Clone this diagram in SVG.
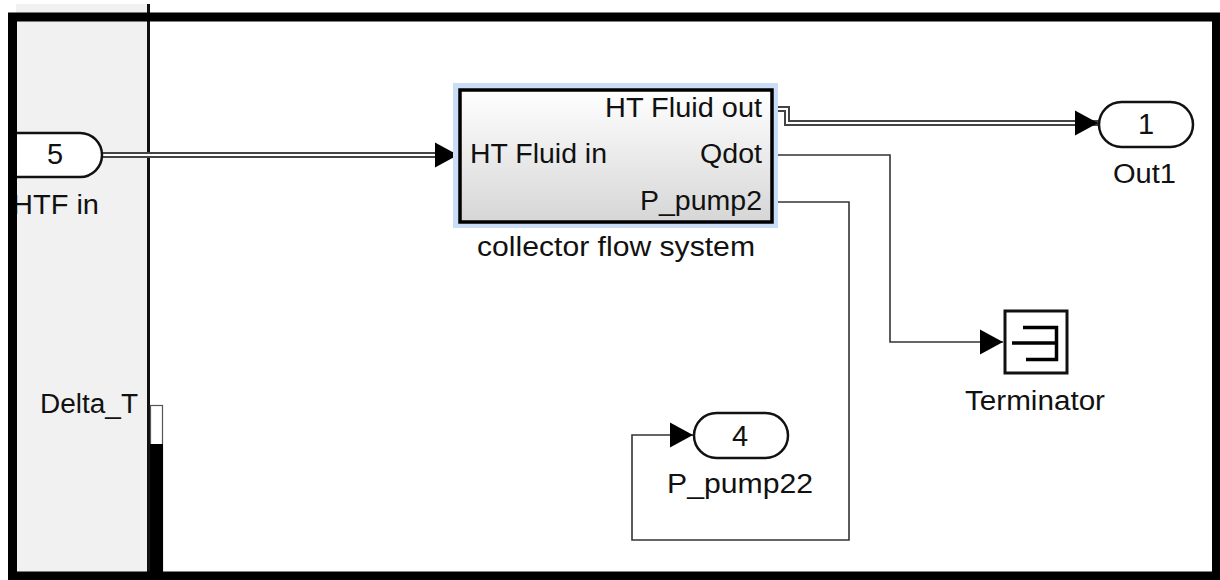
<svg xmlns="http://www.w3.org/2000/svg" width="1220" height="580" viewBox="0 0 1220 580">
<style>
text{font-family:"Liberation Sans",Arial,sans-serif;font-size:27px;fill:#111}
.num{font-size:29px}
.port{fill:#fff;stroke:#111;stroke-width:2.5}
.sig{fill:none;stroke:#333;stroke-width:1.6}
.busO{fill:none;stroke:#444;stroke-width:6}
.busI{fill:none;stroke:#fff;stroke-width:2}
</style>
<defs>
<marker id="arr" markerUnits="userSpaceOnUse" markerWidth="24" markerHeight="26" refX="23" refY="12.5" orient="auto" overflow="visible">
<path d="M0,0 L23,12.5 L0,25 z" fill="#000"/>
</marker>
<linearGradient id="blk" x1="0" y1="0" x2="0" y2="1">
<stop offset="0" stop-color="#ffffff"/>
<stop offset="1" stop-color="#d6d6d6"/>
</linearGradient>
</defs>
<rect width="1220" height="580" fill="#fff"/>
<g id="subsystem-panel">
<rect x="16" y="4" width="132" height="572" fill="#f1f1f1"/>
<line x1="148.5" y1="4" x2="148.5" y2="576" stroke="#111" stroke-width="3"/>
<text x="138" y="413" text-anchor="end" textLength="98" lengthAdjust="spacingAndGlyphs">Delta_T</text>
<rect x="150.5" y="405.5" width="12" height="170" fill="#fff" stroke="#555" stroke-width="1.2"/>
<rect x="150" y="444" width="13" height="132" fill="#000"/>
</g>
<g id="connectors">
<path class="busO" d="M102,155 H458" marker-end="url(#arr)"/>
<path class="busI" d="M102,155 H435"/>
<path class="busO" d="M773,109 H787 V123 H1098" marker-end="url(#arr)"/>
<path class="busI" d="M773,109 H787 V123 H1075"/>
<path class="sig" d="M773,155 H890 V342 H1003" marker-end="url(#arr)"/>
<path class="sig" d="M773,202 H849 V540 H632 V435 H693" marker-end="url(#arr)"/>
</g>
<g id="in5">
<path class="port" d="M17,133 H80 A22,22 0 0 1 80,177 H17"/>
<text class="num" x="55" y="164" text-anchor="middle">5</text>
<text x="99" y="214" text-anchor="end" textLength="87" lengthAdjust="spacingAndGlyphs">HTF in</text>
</g>
<g id="collector">
<rect x="453" y="83" width="325" height="145" fill="#c9def6"/>
<rect x="460" y="90" width="312" height="132" fill="url(#blk)" stroke="#000" stroke-width="3.5"/>
<text x="762" y="117" text-anchor="end" textLength="157" lengthAdjust="spacingAndGlyphs">HT Fluid out</text>
<text x="470" y="163" textLength="137" lengthAdjust="spacingAndGlyphs">HT Fluid in</text>
<text x="762" y="163" text-anchor="end" textLength="62" lengthAdjust="spacingAndGlyphs">Qdot</text>
<text x="762" y="210" text-anchor="end" textLength="122" lengthAdjust="spacingAndGlyphs">P_pump2</text>
<text x="477" y="256" textLength="278" lengthAdjust="spacingAndGlyphs">collector flow system</text>
</g>
<g id="out1">
<rect class="port" x="1099" y="102" width="94" height="45" rx="22.5"/>
<text class="num" x="1146" y="134" text-anchor="middle">1</text>
<text x="1113" y="183" textLength="63" lengthAdjust="spacingAndGlyphs">Out1</text>
</g>
<g id="terminator">
<rect x="1005" y="311" width="62" height="62" fill="#fff" stroke="#111" stroke-width="3"/>
<path d="M1012,343 H1057 M1023,327.5 H1056.5 V359.5 H1026" fill="none" stroke="#000" stroke-width="3.5"/>
<text x="965" y="410" textLength="140" lengthAdjust="spacingAndGlyphs">Terminator</text>
</g>
<g id="out4">
<rect class="port" x="694" y="413" width="94" height="45" rx="22.5"/>
<text class="num" x="740" y="446" text-anchor="middle">4</text>
<text x="667" y="493" textLength="146" lengthAdjust="spacingAndGlyphs">P_pump22</text>
</g>
<g id="frame">
<rect x="12.5" y="17" width="1204" height="559" fill="none" stroke="#000" stroke-width="9"/>
<rect x="0" y="0" width="8" height="580" fill="#fff"/>
</g>
</svg>
